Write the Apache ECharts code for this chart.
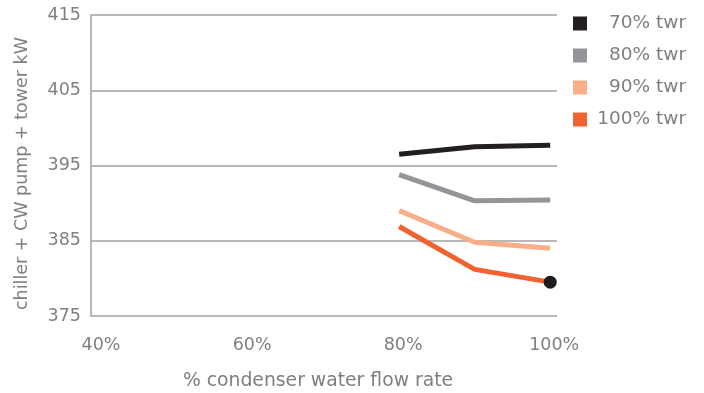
<!DOCTYPE html>
<html>
<head>
<meta charset="utf-8">
<script src="https://cdn.jsdelivr.net/npm/echarts@6/dist/echarts.min.js"></script>
<style>
  html, body { margin: 0; padding: 0; background: #fff; }
  #chart { width: 704px; height: 393px; }
</style>
</head>
<body>
<div id="chart"></div>
<script>
// flow rate (% of design) and kW readings per tower setting
var flow = [80, 90, 100]
var twr70 = [396.5, 397.5, 397.7]
var twr80 = [393.8, 390.3, 390.4]
var twr90 = [389.0, 384.8, 384.0]
var twr100 = [386.9, 381.2, 379.5]
var xTicks = [40, 60, 80, 100]
var seriesNames = ['70% twr', '80% twr', '90% twr', '100% twr']
var colors = ['#231f20', '#939598', '#f9ae8a', '#f26230']

var textColor = '#7f7f7f'
var font = 'DejaVu Sans'

function pairs(vals) {
  return flow.map(function(f, i) { return [f, vals[i]] })
}

function lineSeries(name, vals, color) {
  return {
    name: name,
    type: 'line',
    data: pairs(vals),
    symbol: 'none',
    showSymbol: true,
    itemStyle: { color: color },
    lineStyle: { color: color, width: 5 },
    z: 3
  }
}

var last = lineSeries(seriesNames[3], twr100, colors[3])
last.data[2] = {
  value: last.data[2],
  symbol: 'circle',
  symbolSize: 13,
  itemStyle: { color: '#1e1c1d' }
}

var chart = echarts.init(document.getElementById('chart'))
chart.setOption({
  animation: false,
  textStyle: { fontFamily: font },
  grid: { left: 91, top: 15, right: 147, bottom: 77, outerBoundsMode: 'none' },
  legend: {
    orient: 'vertical',
    left: 573,
    top: 14,
    padding: 0,
    icon: 'rect',
    itemWidth: 14,
    itemHeight: 14,
    itemGap: 13,
    data: seriesNames,
    formatter: '{a|{name}}',
    textStyle: {
      rich: {
        a: { color: textColor, fontSize: 18.5, fontFamily: font, width: 94, align: 'right' }
      }
    }
  },
  xAxis: {
    type: 'value',
    min: 39.2,
    max: 100.9,
    name: '% condenser water flow rate',
    nameLocation: 'middle',
    nameGap: 56,
    nameTextStyle: { color: textColor, fontSize: 18.8, fontFamily: font, padding: [0, 12, 0, 0] },
    axisLine: { show: false },
    axisTick: { show: false },
    splitLine: { show: false },
    axisLabel: {
      customValues: xTicks,
      color: textColor,
      fontSize: 17.5,
      margin: 20,
      padding: [0, 0, 0, 8],
      formatter: '{value}%'
    }
  },
  yAxis: {
    type: 'value',
    min: 375,
    max: 415,
    interval: 10,
    name: 'chiller + CW pump + tower kW',
    nameLocation: 'middle',
    nameGap: 60,
    nameTextStyle: { color: textColor, fontSize: 17.5, fontFamily: font, padding: [0, 16, 0, 0] },
    axisLine: { show: true, lineStyle: { color: '#a0a0a0', width: 1.5 } },
    axisTick: { show: false },
    splitLine: { lineStyle: { color: '#a0a0a0', width: 1.5 } },
    axisLabel: { color: textColor, fontSize: 17.5, margin: 10 }
  },
  series: [
    lineSeries(seriesNames[0], twr70, colors[0]),
    lineSeries(seriesNames[1], twr80, colors[1]),
    lineSeries(seriesNames[2], twr90, colors[2]),
    last
  ]
})
</script>
</body>
</html>
